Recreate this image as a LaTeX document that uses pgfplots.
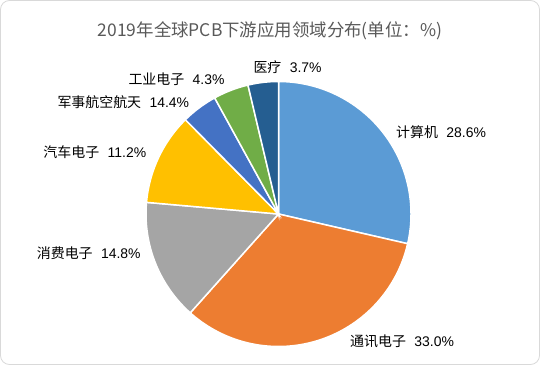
\documentclass[border=0pt]{standalone}
\usepackage{fontspec}
\setmainfont{Liberation Sans}
\newfontfamily\cjk{Noto Sans CJK SC}
\usepackage{pgfplots}
\pgfplotsset{compat=1.18}
\definecolor{c1}{HTML}{5B9BD5}
\definecolor{c2}{HTML}{ED7D31}
\definecolor{c3}{HTML}{A5A5A5}
\definecolor{c4}{HTML}{FFC000}
\definecolor{c5}{HTML}{4472C4}
\definecolor{c6}{HTML}{70AD47}
\definecolor{c7}{HTML}{255E91}
\newcommand\lab[2]{{\cjk #1}\hspace{0.6em}#2\%}
\begin{document}
\begin{tikzpicture}[x=1bp,y=1bp]
\useasboundingbox (0,0) rectangle (540,365);
\draw[rounded corners=9bp, draw=black!15, line width=0.8bp] (0.5,0.5) rectangle (539.5,364.5);
\node[text=black!65, font=\cjk\fontsize{17.5}{20}\selectfont] at (270,334) {2019年全球PCB下游应用领域分布(单位：\%)};
\begin{axis}[hide axis, x=132.5bp, y=132.5bp, xmin=-1, xmax=1, ymin=-1, ymax=1,
  anchor=origin, at={(278.5bp,151bp)}, clip=false]
\gdef\startang{90}
\foreach \v/\c in {28.6/c1, 33.0/c2, 14.8/c3, 11.2/c4, 4.4/c5, 4.3/c6, 3.7/c7}{
  \pgfmathsetmacro\e{\startang-3.6*\v}
  \edef\tmp{\noexpand\addplot[fill=\c, draw=white, line width=1.5bp, domain=\e:\startang, samples=80] ({cos(x)},{sin(x)}) -- (axis cs:0,0) -- cycle;}
  \tmp
  \xdef\startang{\e}
}
\end{axis}
\begin{scope}[every node/.style={anchor=west, inner sep=0pt, text=black, font=\fontsize{14}{16}\selectfont}]
\node at (396,232.7) {\lab{计算机}{28.6}};
\node at (350,23.3) {\lab{通讯电子}{33.0}};
\node at (36.7,112.3) {\lab{消费电子}{14.8}};
\node at (43.3,212.7) {\lab{汽车电子}{11.2}};
\node at (57.3,263.3) {\lab{军事航空航天}{14.4}};
\node at (128.3,286) {\lab{工业电子}{4.3}};
\node at (253.3,298) {\lab{医疗}{3.7}};
\end{scope}
\end{tikzpicture}
\end{document}
